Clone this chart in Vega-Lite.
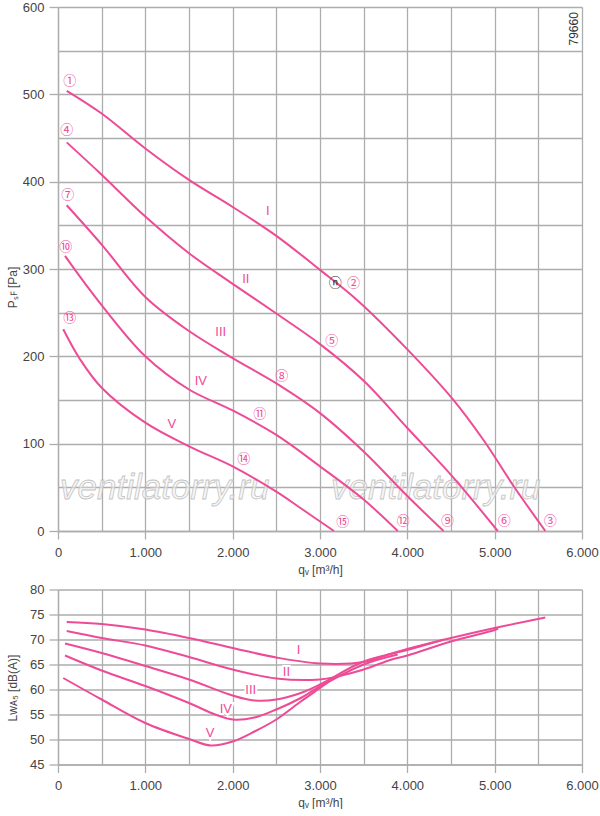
{
  "$schema": "https://vega.github.io/schema/vega-lite/v6.json",
  "padding": {"left": 6, "top": 1, "right": 0, "bottom": 0},
  "spacing": 8.5,
  "config": {
    "view": {"stroke": null},
    "font": "Liberation Sans",
    "axis": {
      "labelFont": "Liberation Sans", "labelFontSize": 13, "labelColor": "#444444",
      "titleFont": "Liberation Sans", "titleFontSize": 12, "titleFontWeight": "normal", "titleColor": "#444444",
      "gridColor": "#adadad", "gridWidth": 1.3, "domainColor": "#adadad", "domainWidth": 1.3,
      "tickColor": "#adadad", "tickWidth": 1.3, "labelOverlap": false, "labelFlush": false
    }
  },
  "datasets": {
    "p": [
      {"c":"I","q":100,"p":504},{"c":"I","q":500,"p":478},{"c":"I","q":1000,"p":438},{"c":"I","q":1500,"p":402},{"c":"I","q":2000,"p":371},{"c":"I","q":2500,"p":338},{"c":"I","q":3000,"p":299},{"c":"I","q":3430,"p":264},{"c":"I","q":4000,"p":208},{"c":"I","q":4520,"p":151},{"c":"I","q":4880,"p":103},{"c":"I","q":5220,"p":51},{"c":"I","q":5580,"p":0},
      {"c":"II","q":100,"p":445},{"c":"II","q":500,"p":408},{"c":"II","q":1000,"p":360},{"c":"II","q":1500,"p":318},{"c":"II","q":2000,"p":283},{"c":"II","q":2500,"p":249},{"c":"II","q":3000,"p":214},{"c":"II","q":3500,"p":172},{"c":"II","q":4000,"p":118},{"c":"II","q":4520,"p":62},{"c":"II","q":5035,"p":0},
      {"c":"III","q":100,"p":373},{"c":"III","q":500,"p":328},{"c":"III","q":1000,"p":268},{"c":"III","q":1500,"p":229},{"c":"III","q":2000,"p":198},{"c":"III","q":2500,"p":169},{"c":"III","q":3000,"p":135},{"c":"III","q":3500,"p":91},{"c":"III","q":4000,"p":40},{"c":"III","q":4415,"p":0},
      {"c":"IV","q":80,"p":315},{"c":"IV","q":450,"p":265},{"c":"IV","q":1000,"p":200},{"c":"IV","q":1500,"p":162},{"c":"IV","q":2000,"p":138},{"c":"IV","q":2500,"p":110},{"c":"IV","q":3000,"p":74},{"c":"IV","q":3500,"p":36},{"c":"IV","q":3890,"p":0},
      {"c":"V","q":60,"p":231},{"c":"V","q":250,"p":197},{"c":"V","q":500,"p":164},{"c":"V","q":1000,"p":124},{"c":"V","q":1500,"p":97},{"c":"V","q":2000,"p":74},{"c":"V","q":2500,"p":45},{"c":"V","q":2780,"p":26},{"c":"V","q":3160,"p":0}
    ],
    "L": [
      {"c":"I","q":100,"L":73.5},{"c":"I","q":500,"L":73.1},{"c":"I","q":1000,"L":72.0},{"c":"I","q":1500,"L":70.3},{"c":"I","q":2000,"L":68.3},{"c":"I","q":2500,"L":66.4},{"c":"I","q":3000,"L":65.2},{"c":"I","q":3500,"L":65.5},{"c":"I","q":3820,"L":67.2},{"c":"I","q":4000,"L":68.1},{"c":"I","q":4500,"L":70.3},{"c":"I","q":5000,"L":72.3},{"c":"I","q":5580,"L":74.4},
      {"c":"II","q":100,"L":71.7},{"c":"II","q":500,"L":70.3},{"c":"II","q":1000,"L":68.8},{"c":"II","q":1500,"L":66.5},{"c":"II","q":2000,"L":64.0},{"c":"II","q":2500,"L":62.2},{"c":"II","q":3000,"L":62.0},{"c":"II","q":3200,"L":62.6},{"c":"II","q":3500,"L":64.0},{"c":"II","q":3820,"L":66.0},{"c":"II","q":4000,"L":66.8},{"c":"II","q":4500,"L":69.6},{"c":"II","q":5000,"L":71.9},{"c":"II","q":5040,"L":72.2},
      {"c":"III","q":80,"L":69.2},{"c":"III","q":500,"L":67.3},{"c":"III","q":1000,"L":64.7},{"c":"III","q":1500,"L":62.0},{"c":"III","q":2000,"L":58.8},{"c":"III","q":2250,"L":57.8},{"c":"III","q":2500,"L":58.0},{"c":"III","q":2780,"L":59.3},{"c":"III","q":3000,"L":61.0},{"c":"III","q":3500,"L":65.6},{"c":"III","q":4000,"L":67.9},{"c":"III","q":4420,"L":70.0},
      {"c":"IV","q":80,"L":66.8},{"c":"IV","q":500,"L":63.8},{"c":"IV","q":1000,"L":60.7},{"c":"IV","q":1500,"L":57.3},{"c":"IV","q":1800,"L":55.0},{"c":"IV","q":2000,"L":54.0},{"c":"IV","q":2250,"L":54.4},{"c":"IV","q":2500,"L":56.0},{"c":"IV","q":2780,"L":58.3},{"c":"IV","q":3000,"L":60.6},{"c":"IV","q":3500,"L":65.0},{"c":"IV","q":3890,"L":67.0},
      {"c":"V","q":60,"L":62.3},{"c":"V","q":500,"L":58.0},{"c":"V","q":1000,"L":53.3},{"c":"V","q":1500,"L":50.1},{"c":"V","q":1750,"L":48.8},{"c":"V","q":2000,"L":49.6},{"c":"V","q":2250,"L":51.6},{"c":"V","q":2500,"L":54.0},{"c":"V","q":2780,"L":57.6},{"c":"V","q":3000,"L":60.3},{"c":"V","q":3160,"L":62.3}
    ],
    "pl": [
      {"t":"①","q":134,"p":515},{"t":"④","q":100,"p":459},{"t":"⑦","q":111,"p":385},{"t":"⑩","q":88,"p":325},{"t":"⑬","q":134,"p":244},
      {"t":"②","q":3384,"p":284},{"t":"⑤","q":3135,"p":218},{"t":"⑧","q":2562,"p":177},{"t":"⑪","q":2310,"p":134},{"t":"⑭","q":2127,"p":82},
      {"t":"③","q":5636,"p":11},{"t":"⑥","q":5109,"p":11},{"t":"⑨","q":4460,"p":11},{"t":"⑫","q":3952,"p":11},{"t":"⑮","q":3261,"p":10}
    ],
    "nl": [{"t":"ⓝ","q":3175,"p":284}],
    "pr": [
      {"t":"I","q":2402,"p":366},{"t":"II","q":2150,"p":288},{"t":"III","q":1864,"p":228},{"t":"IV","q":1635,"p":172},{"t":"V","q":1302,"p":123}
    ],
    "lr": [
      {"t":"I","q":2754,"L":67.9},{"t":"II","q":2616,"L":63.5},{"t":"III","q":2207,"L":59.9},{"t":"IV","q":1921,"L":56.1},{"t":"V","q":1742,"L":51.3}
    ],
    "wm": [{"t":"ventilatorry.ru","q":1222,"p":49},{"t":"ventilatorry.ru","q":4326,"p":49}],
    "id": [{"t":"79660","q":5913,"p":575}]
  },
  "vconcat": [
    {
      "width": 524,
      "height": 524,
      "layer": [
        {
          "data": {"name": "wm"},
          "mark": {"type": "text", "font": "Liberation Sans", "fontStyle": "italic", "fontSize": 35, "fill": "#f2f2f2", "fillOpacity": 0.6, "stroke": "#c4c4c4", "strokeWidth": 0.8, "align": "center", "baseline": "middle"},
          "encoding": {
            "x": {"field": "q", "type": "quantitative",
              "scale": {"domain": [0, 6000], "nice": false, "zero": false},
              "axis": {
                "values": [0,500,1000,1500,2000,2500,3000,3500,4000,4500,5000,5500,6000],
                "tickCount": 30,
                "labelExpr": "datum.value % 1000 === 0 ? replace(format(datum.value, ','), ',', '.') : ''",
                "tickOpacity": {"condition": {"test": "datum.value % 1000 === 0", "value": 1}, "value": 0},
                "tickSize": 8, "labelPadding": 7, "title": "qᵥ [m³/h]", "titlePadding": 5, "labelOverlap": false
              }
            },
            "y": {"field": "p", "type": "quantitative",
              "scale": {"domain": [0, 600], "nice": false},
              "axis": {
                "values": [0,50,100,150,200,250,300,350,400,450,500,550,600],
                "tickCount": 30,
                "labelExpr": "datum.value % 100 === 0 ? datum.label : ''",
                "tickOpacity": {"condition": {"test": "datum.value % 100 === 0", "value": 1}, "value": 0},
                "tickSize": 9, "labelPadding": 5, "title": "Pₛꜰ [Pa]", "titleX": -39, "titleY": 280, "labelOverlap": false
              }
            },
            "text": {"field": "t"}
          }
        },
        {
          "data": {"name": "p"},
          "mark": {"type": "line", "color": "#ee4b97", "strokeWidth": 2, "interpolate": "catmull-rom"},
          "encoding": {
            "x": {"field": "q", "type": "quantitative"},
            "y": {"field": "p", "type": "quantitative"},
            "detail": {"field": "c"}
          }
        },
        {
          "data": {"name": "pl"},
          "mark": {"type": "text", "font": "Noto Sans CJK JP", "fontSize": 13, "color": "#ee4b97", "align": "center", "baseline": "middle"},
          "encoding": {
            "x": {"field": "q", "type": "quantitative"},
            "y": {"field": "p", "type": "quantitative"},
            "text": {"field": "t"}
          }
        },
        {
          "data": {"name": "nl"},
          "mark": {"type": "text", "font": "Noto Sans CJK JP", "fontSize": 13, "color": "#222222", "align": "center", "baseline": "middle"},
          "encoding": {
            "x": {"field": "q", "type": "quantitative"},
            "y": {"field": "p", "type": "quantitative"},
            "text": {"field": "t"}
          }
        },
        {
          "data": {"name": "pr"},
          "mark": {"type": "text", "font": "Liberation Sans Narrow, Liberation Sans", "fontSize": 13, "color": "#ee4b97", "align": "center", "baseline": "middle"},
          "encoding": {
            "x": {"field": "q", "type": "quantitative"},
            "y": {"field": "p", "type": "quantitative"},
            "text": {"field": "t"}
          }
        },
        {
          "data": {"name": "id"},
          "mark": {"type": "text", "font": "Liberation Sans", "fontSize": 12, "color": "#333333", "align": "center", "baseline": "middle", "angle": 270},
          "encoding": {
            "x": {"field": "q", "type": "quantitative"},
            "y": {"field": "p", "type": "quantitative"},
            "text": {"field": "t"}
          }
        }
      ]
    },
    {
      "width": 524,
      "height": 175,
      "layer": [
        {
          "data": {"name": "L"},
          "mark": {"type": "line", "color": "#ee4b97", "strokeWidth": 2, "interpolate": "catmull-rom"},
          "encoding": {
            "x": {"field": "q", "type": "quantitative",
              "scale": {"domain": [0, 6000], "nice": false, "zero": false},
              "axis": {
                "values": [0,500,1000,1500,2000,2500,3000,3500,4000,4500,5000,5500,6000],
                "tickCount": 30,
                "labelExpr": "datum.value % 1000 === 0 ? replace(format(datum.value, ','), ',', '.') : ''",
                "tickOpacity": {"condition": {"test": "datum.value % 1000 === 0", "value": 1}, "value": 0},
                "tickSize": 8, "labelPadding": 7, "title": "qᵥ [m³/h]", "titlePadding": 5, "labelOverlap": false
              }
            },
            "y": {"field": "L", "type": "quantitative",
              "scale": {"domain": [45, 80], "nice": false, "zero": false},
              "axis": {
                "values": [45,50,55,60,65,70,75,80],
                "tickCount": 30,
                "tickSize": 9, "labelPadding": 5, "title": "Lᴡᴀ₅ [dB(A)]", "titleX": -39, "titleY": 98, "labelOverlap": false
              }
            },
            "detail": {"field": "c"}
          }
        },
        {
          "data": {"name": "lr"},
          "mark": {"type": "text", "font": "Liberation Sans Narrow, Liberation Sans", "fontSize": 13, "color": "#ffffff", "stroke": "#ffffff", "strokeWidth": 4, "align": "center", "baseline": "middle"},
          "encoding": {
            "x": {"field": "q", "type": "quantitative"},
            "y": {"field": "L", "type": "quantitative"},
            "text": {"field": "t"}
          }
        },
        {
          "data": {"name": "lr"},
          "mark": {"type": "text", "font": "Liberation Sans Narrow, Liberation Sans", "fontSize": 13, "color": "#ee4b97", "align": "center", "baseline": "middle"},
          "encoding": {
            "x": {"field": "q", "type": "quantitative"},
            "y": {"field": "L", "type": "quantitative"},
            "text": {"field": "t"}
          }
        }
      ]
    }
  ]
}
